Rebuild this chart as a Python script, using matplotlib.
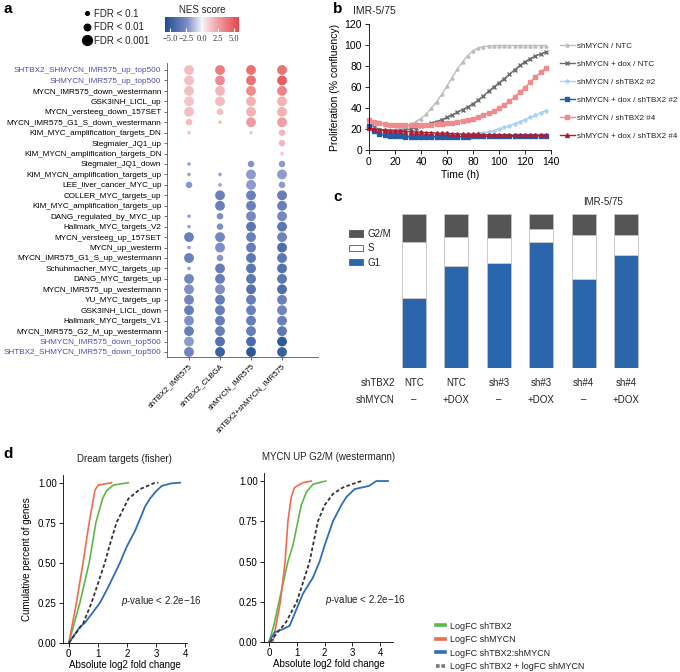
import numpy as np
import matplotlib
matplotlib.use('Agg')
import matplotlib.pyplot as plt
import matplotlib.transforms as mtransforms
from matplotlib.colors import LinearSegmentedColormap, Normalize
from matplotlib.cm import ScalarMappable
from matplotlib.lines import Line2D
from matplotlib.patches import Patch

#! panel a: GSEA dot plot
gene_sets = [
  'SHTBX2_SHMYCN_IMR575_up_top500', 'SHMYCN_IMR575_up_top500', 'MYCN_IMR575_down_westermann',
  'GSK3INH_LICL_up', 'MYCN_versteeg_down_157SET', 'MYCN_IMR575_G1_S_down_westermann',
  'KIM_MYC_amplification_targets_DN', 'Stegmaier_JQ1_up', 'KIM_MYCN_amplification_targets_DN',
  'Stegmaier_JQ1_down', 'KIM_MYCN_amplification_targets_up', 'LEE_liver_cancer_MYC_up',
  'COLLER_MYC_targets_up', 'KIM_MYC_amplification_targets_up', 'DANG_regulated_by_MYC_up',
  'Hallmark_MYC_targets_V2', 'MYCN_versteeg_up_157SET', 'MYCN_up_westerm',
  'MYCN_IMR575_G1_S_up_westermann', 'Schuhmacher_MYC_targets_up', 'DANG_MYC_targets_up',
  'MYCN_IMR575_up_westermann', 'YU_MYC_targets_up', 'GSK3INH_LICL_down', 'Hallmark_MYC_targets_V1',
  'MYCN_IMR575_G2_M_up_westermann', 'SHMYCN_IMR575_down_top500', 'SHTBX2_SHMYCN_IMR575_down_top500',
]
highlighted_sets = ['SHTBX2_SHMYCN_IMR575_up_top500', 'SHMYCN_IMR575_up_top500',
                    'SHMYCN_IMR575_down_top500', 'SHTBX2_SHMYCN_IMR575_down_top500']
comparisons = ['shTBX2_IMR575', 'shTBX2_CLBGA', 'shMYCN_IMR575', 'shTBX2+shMYCN_IMR575']
nan = np.nan
nes = np.array([
  [1.6, 3.8, 4.2, 4.2],
  [1.5, 3.2, 4.2, 4.9],
  [1.5, 1.8, 3.2, 3.5],
  [1.4, 1.6, 1.9, 1.9],
  [1.5, 1.5, 1.9, 1.9],
  [1.6, 1.5, 2.6, 2.5],
  [1.3, nan, 1.3, 1.8],
  [nan, nan, nan, 1.8],
  [nan, nan, nan, 1.3],
  [-1.8, nan, -2.2, -2.0],
  [-1.8, -1.8, -2.0, -2.0],
  [-2.1, -1.8, -2.0, -2.0],
  [nan, -3.0, -3.0, -3.2],
  [nan, -3.0, -3.0, -3.0],
  [-1.8, -2.3, -2.6, -2.6],
  [-1.8, -2.3, -3.5, -3.5],
  [-3.0, -2.7, -3.0, -2.8],
  [-1.8, -2.3, -3.2, -4.0],
  [-3.0, -2.1, -3.5, -3.5],
  [-1.8, -3.2, -3.6, -3.8],
  [-2.7, -3.2, -3.5, -3.5],
  [-2.3, -2.3, -3.8, -4.0],
  [-2.8, -3.2, -3.2, -3.0],
  [-3.2, -3.2, -3.0, -2.8],
  [-2.3, -3.2, -3.2, -3.0],
  [-3.2, -3.2, -3.2, -3.5],
  [-2.0, -3.8, -4.2, -5.2],
  [-2.8, -4.8, -5.2, -4.8],
])
#* 0 = not significant, 1 = FDR<0.1, 2 = FDR<0.01, 3 = FDR<0.001
fdr_class = np.array([
  [3, 3, 3, 3], [3, 3, 3, 3], [3, 3, 3, 3], [3, 3, 3, 3], [3, 2, 3, 3],
  [2, 1, 3, 3], [1, 0, 1, 2], [0, 0, 0, 2], [0, 0, 0, 1], [1, 0, 2, 2],
  [1, 1, 3, 3], [2, 1, 3, 2], [0, 3, 3, 3], [0, 3, 3, 3], [1, 2, 3, 3],
  [1, 2, 3, 3], [3, 3, 3, 3], [1, 3, 3, 3], [3, 2, 3, 3], [1, 3, 3, 3],
  [3, 3, 3, 3], [3, 3, 3, 3], [3, 3, 3, 3], [3, 3, 3, 3], [3, 3, 3, 3],
  [3, 3, 3, 3], [3, 3, 3, 3], [3, 3, 3, 3],
])
fdr_labels = ['FDR < 0.1', 'FDR < 0.01', 'FDR < 0.001']

#! panel b: proliferation curves
time_h = [0, 4, 8, 12, 16, 20, 24, 28, 32, 36, 40, 44, 48, 52, 56, 60, 64, 68, 72, 76, 80, 84,
          88, 92, 96, 100, 104, 108, 112, 116, 120, 124, 128, 132, 136]
conf_ntc = [27, 22, 20, 19, 19, 19.5, 20.5, 22, 24, 27, 30, 34, 40, 46, 53, 61, 69, 77, 84, 90,
            94.5, 97, 98.5, 99, 99.5, 99.5, 99.5, 99.5, 99.5, 99.5, 99.5, 99.5, 99.5, 99.5, 99.5]
conf_dox_ntc = [27, 22, 19, 18, 18, 18, 18.5, 19, 20, 21, 22.5, 24, 25.5, 27, 29, 31, 33.5, 36,
                38.5, 41, 44, 47.5, 51.5, 56, 60, 64, 68, 72, 76.5, 80.5, 84, 87, 89.5, 91.5, 93]
conf_sh2 = [26, 20, 17, 15, 14, 14, 14, 14, 14, 14, 14, 14, 14, 14, 14, 14, 14.5, 14.5, 15, 15,
            15.5, 16, 16.5, 17.5, 18.5, 20, 21.5, 23, 25, 27, 29, 31, 33, 35.5, 37.5]
conf_dox_sh2 = [23, 18, 15, 14, 13, 13, 13, 12.5, 12.5, 12.5, 12.5, 12.5, 12.5, 12.5, 12.5, 12.5,
                12.5, 12.5, 12.5, 12.5, 13, 13, 13, 13, 13, 13, 13, 13, 13, 13, 13.5, 13.5, 13.5,
                13.5, 13.5]
conf_sh4 = [29, 27, 25.5, 24.5, 24, 23.5, 23.5, 23.5, 23.5, 23.5, 23.5, 24, 24, 24.5, 25, 25.5,
            26, 27, 28, 29, 30, 31.5, 33, 35, 37.5, 40, 43, 46.5, 50.5, 55, 59.5, 64.5, 69.5, 74, 78]
conf_dox_sh4 = [21, 20, 19.5, 19, 18.5, 18, 18, 17.5, 17.5, 17, 17, 16.5, 16.5, 16, 16, 16, 15.5,
                15.5, 15, 15, 15, 15, 14.5, 14.5, 14.5, 14.5, 14, 14, 14, 14, 14, 14, 14, 14, 14]
prolif_labels = ['shMYCN / NTC', 'shMYCN + dox / NTC', 'shMYCN / shTBX2 #2',
                 'shMYCN + dox / shTBX2 #2', 'shMYCN / shTBX2 #4', 'shMYCN + dox / shTBX2 #4']

#! panel c: cell cycle
shtbx2_cond = ['NTC', 'NTC', 'sh#3', 'sh#3', 'sh#4', 'sh#4']
shmycn_cond = ['\u2013', '+DOX', '\u2013', '+DOX', '\u2013', '+DOX']
g1_pct = [45.6, 66.0, 68.2, 81.6, 57.8, 73.4]
s_pct = [36.4, 19.0, 16.2, 8.9, 28.8, 12.8]
g2m_pct = [18.0, 15.0, 15.6, 9.5, 13.4, 13.8]

#! panel d: cumulative distributions
dream_red_x = [0, 0.26, 0.49, 0.70, 0.90, 1.01, 1.47]
dream_red_y = [0, 0.25, 0.50, 0.75, 0.954, 0.985, 1.0]
dream_green_x = [0, 0.38, 0.70, 0.84, 0.93, 1.16, 1.30, 1.53, 2.05]
dream_green_y = [0, 0.25, 0.50, 0.65, 0.75, 0.90, 0.95, 0.985, 1.0]
dream_blue_x = [0, 0.38, 0.55, 1.07, 1.36, 1.76, 1.99, 2.28, 2.51, 2.62, 2.79, 3.02, 3.20, 3.50, 3.83]
dream_blue_y = [0, 0.10, 0.125, 0.25, 0.35, 0.50, 0.60, 0.70, 0.80, 0.85, 0.90, 0.95, 0.98, 0.995, 1.0]
dream_sum_x = [0, 0.20, 0.50, 0.78, 1.24, 1.39, 1.64, 2.05, 2.45, 2.97, 3.08]
dream_sum_y = [0, 0.05, 0.125, 0.25, 0.50, 0.60, 0.75, 0.90, 0.96, 1.0, 1.0]

g2m_red_x = [0.14, 0.41, 0.58, 0.68, 0.80, 0.92, 1.22, 1.52]
g2m_red_y = [0, 0.25, 0.50, 0.75, 0.90, 0.96, 0.99, 1.0]
g2m_green_x = [0, 0.17, 0.36, 0.68, 0.86, 1.04, 1.16, 1.34, 1.58, 2.04]
g2m_green_y = [0, 0.10, 0.25, 0.50, 0.60, 0.75, 0.85, 0.93, 0.98, 1.0]
g2m_blue_x = [0, 0.20, 0.50, 0.74, 0.98, 1.22, 1.58, 1.82, 2.00, 2.30, 2.60, 2.78, 3.08, 3.60, 3.86, 4.28]
g2m_blue_y = [0, 0.06, 0.08, 0.10, 0.20, 0.30, 0.40, 0.50, 0.60, 0.75, 0.85, 0.90, 0.95, 0.97, 1.0, 1.0]
g2m_sum_x = [0.05, 0.26, 0.62, 1.00, 1.28, 1.46, 1.58, 1.76, 2.00, 2.30, 2.66, 3.14, 3.33]
g2m_sum_y = [0, 0.05, 0.125, 0.25, 0.40, 0.50, 0.60, 0.75, 0.85, 0.92, 0.96, 0.99, 1.0]
cdf_labels = ['LogFC shTBX2', 'LogFC shMYCN', 'LogFC shTBX2:shMYCN', 'LogFC shTBX2 + logFC shMYCN']


W, H = 680, 672


def px_axes(fig, x0, y0, x1, y1):
  #* axes from pixel box (top-left origin)
  return fig.add_axes([x0 / W, 1 - y1 / H, (x1 - x0) / W, (y1 - y0) / H])


def style_cdf(ax):
  ax.spines[['top', 'right']].set_visible(False)
  ax.set_yticks([0, 0.25, 0.5, 0.75, 1.0])
  ax.set_yticklabels(['0.00', '0.25', '0.50', '0.75', '1.00'])
  ax.set_xticks([0, 1, 2, 3, 4])
  ax.tick_params(labelsize=7, length=3, width=0.6, pad=1.5)
  ax.set_xlabel('Absolute log2 fold change', fontsize=7, labelpad=0.5)
  ax.text(0.47, 0.25, '$p$-value < 2.2e\u221216', fontsize=7, transform=ax.transAxes, va='center')


def main():
  plt.rcParams['font.family'] = ['Liberation Sans', 'DejaVu Sans']
  plt.rcParams['mathtext.fontset'] = 'custom'
  plt.rcParams['mathtext.it'] = 'Liberation Sans:italic'
  plt.rcParams['mathtext.rm'] = 'Liberation Sans'
  plt.rcParams['axes.linewidth'] = 0.6
  plt.rcParams['text.color'] = '#222222'

  fig = plt.figure(figsize=(W / 100, H / 100), dpi=100)

  #! ---------------- panel a ----------------
  cmap = LinearSegmentedColormap.from_list(
    'nes', [(0, '#1d4e93'), (0.3, '#7d8dc5'), (0.5, '#f6f6f8'), (0.7, '#f3a3a6'), (1, '#e4464d')])
  norm = Normalize(-5.8, 5.8)
  size_map = {1: 7, 2: 22, 3: 50}

  ax_a = px_axes(fig, 167, 63, 318, 357)
  rows, cols = np.nonzero(fdr_class)
  ax_a.scatter(cols, rows, s=[size_map[c] for c in fdr_class[rows, cols]],
               c=nes[rows, cols], cmap=cmap, norm=norm, linewidths=0)
  ax_a.set_xlim(-0.71, 4.16)
  ax_a.set_ylim(len(gene_sets) - 0.52, -0.67)
  ax_a.spines[['top', 'right']].set_visible(False)
  for s in ['left', 'bottom']:
    ax_a.spines[s].set_color('#555555')
  ax_a.set_yticks(range(len(gene_sets)))
  ax_a.set_yticklabels(gene_sets, fontsize=5.9)
  for lab in ax_a.get_yticklabels():
    if lab.get_text() in highlighted_sets:
      lab.set_color('#4f4fa6')
  ax_a.set_xticks(range(len(comparisons)))
  ax_a.set_xticklabels(comparisons, fontsize=5.6, rotation=45, ha='right', rotation_mode='anchor')
  ax_a.tick_params(length=2, width=0.6, pad=2, color='#555555')

  #* FDR size legend
  fdr_handles = [Line2D([], [], ls='', marker='o', color='black', markersize=np.sqrt(size_map[k]))
                 for k in (1, 2, 3)]
  ax_a.legend(fdr_handles, fdr_labels, loc='upper left', bbox_to_anchor=(78 / W, 1 - 4 / H),
              bbox_transform=fig.transFigure, frameon=False, fontsize=7, handlelength=0.8,
              handletextpad=0.3, labelspacing=0.35, borderpad=0)

  #* NES colour bar
  cax = px_axes(fig, 165, 17, 239, 32)
  cb = fig.colorbar(ScalarMappable(norm=norm, cmap=cmap), cax=cax, orientation='horizontal',
                    ticks=[-5, -2.5, 0, 2.5, 5])
  cb.outline.set_visible(False)
  cax.tick_params(axis='x', direction='in', length=3, width=0.8, color='white', labelsize=6,
                  labelcolor='#333333', pad=2)
  for lab in cax.get_xticklabels():
    lab.set_family('Liberation Serif')
  cax.set_title('NES score', fontsize=7, pad=3)

  #! ---------------- panel b ----------------
  ax_b = px_axes(fig, 369, 24, 551, 150)
  series_b = [conf_ntc, conf_dox_ntc, conf_sh2, conf_dox_sh2, conf_sh4, conf_dox_sh4]
  colors_b = ['#bdbdbd', '#6b6b6b', '#a9d3ee', '#1f5ea6', '#f08a8c', '#b11c35']
  markers_b = ['^', 'x', '*', 's', 's', '^']
  msizes_b = [2.2, 2.5, 3, 2.4, 3.2, 2.8]
  for vals, col, mk, ms, lab in zip(series_b, colors_b, markers_b, msizes_b, prolif_labels):
    ax_b.plot(time_h, vals, color=col, marker=mk, markersize=ms, lw=1.0, label=lab, clip_on=False)
  ax_b.set_xlim(0, 140)
  ax_b.set_ylim(0, 120)
  ax_b.set_xticks(range(0, 141, 20))
  ax_b.set_yticks(range(0, 121, 20))
  ax_b.spines[['top', 'right']].set_visible(False)
  ax_b.tick_params(labelsize=7.5, length=3, width=0.6, pad=2)
  ax_b.set_xlabel('Time (h)', fontsize=7.5, labelpad=2)
  ax_b.set_ylabel('Proliferation (% confluency)', fontsize=7.5, labelpad=3)
  ax_b.text(-0.09, 1.1, 'IMR-5/75', fontsize=7.5, transform=ax_b.transAxes, va='center')
  ax_b.legend(loc='upper left', bbox_to_anchor=(556 / W, 1 - 38 / H), bbox_transform=fig.transFigure,
              frameon=False, fontsize=5.8, handlelength=1.8, handletextpad=0.35, labelspacing=1.3,
              borderpad=0)

  #! ---------------- panel c ----------------
  ax_c = px_axes(fig, 392.8, 214, 647.2, 368)
  xpos = np.arange(len(g1_pct))
  bar_kw = dict(width=0.57, edgecolor='#c4c4c4', linewidth=0.6)
  ax_c.bar(xpos, g1_pct, color='#2b66ad', **bar_kw)
  ax_c.bar(xpos, s_pct, bottom=g1_pct, color='white', **bar_kw)
  ax_c.bar(xpos, g2m_pct, bottom=np.add(g1_pct, s_pct), color='#555555', **bar_kw)
  ax_c.set_xlim(-0.5, 5.5)
  ax_c.set_ylim(0, 100)
  ax_c.axis('off')
  trans = mtransforms.blended_transform_factory(ax_c.transData, ax_c.transAxes)
  for i in xpos:
    ax_c.text(i, -0.1, shtbx2_cond[i], transform=trans, ha='center', va='center', fontsize=7)
    ax_c.text(i, -0.205, shmycn_cond[i], transform=trans, ha='center', va='center', fontsize=7)
  ax_c.text(-0.45, -0.1, 'shTBX2', transform=trans, ha='right', va='center', fontsize=7)
  ax_c.text(-0.45, -0.205, 'shMYCN', transform=trans, ha='right', va='center', fontsize=7)
  ax_c.text(4.45, 1.08, 'IMR-5/75', transform=trans, ha='center', va='center', fontsize=7)
  cc_handles = [Patch(facecolor='#555555', edgecolor='#555555', lw=0.6),
                Patch(facecolor='white', edgecolor='#555555', lw=0.6),
                Patch(facecolor='#2b66ad', edgecolor='#2b66ad', lw=0.6)]
  ax_c.legend(cc_handles, ['G2/M', 'S', 'G1'], loc='upper left', bbox_to_anchor=(344 / W, 1 - 224 / H),
              bbox_transform=fig.transFigure, frameon=False, fontsize=7, handlelength=1.5,
              handleheight=0.6, handletextpad=0.4, labelspacing=0.45, borderpad=0)

  #! ---------------- panel d ----------------
  c_green, c_red, c_blue, c_sum = '#5cb846', '#ee6c4d', '#2f6db5', '#333333'
  ax_d1 = px_axes(fig, 63, 475, 186.5, 643)
  ax_d1.plot(dream_green_x, dream_green_y, color=c_green, lw=1.2)
  ax_d1.plot(dream_red_x, dream_red_y, color=c_red, lw=1.2)
  ax_d1.plot(dream_blue_x, dream_blue_y, color=c_blue, lw=1.3)
  ax_d1.plot(dream_sum_x, dream_sum_y, color=c_sum, lw=1.3, ls=(0, (2, 1.3)))
  ax_d1.set_xlim(-0.2, 4.05)
  ax_d1.set_ylim(0, 1.048)
  style_cdf(ax_d1)
  ax_d1.set_title('Dream targets (fisher)', fontsize=7, pad=9)
  ax_d1.set_ylabel('Cumulative percent of genes', fontsize=7, labelpad=4)

  ax_d2 = px_axes(fig, 264, 473, 393, 642)
  ax_d2.plot(g2m_green_x, g2m_green_y, color=c_green, lw=1.2)
  ax_d2.plot(g2m_red_x, g2m_red_y, color=c_red, lw=1.2)
  ax_d2.plot(g2m_blue_x, g2m_blue_y, color=c_blue, lw=1.3)
  ax_d2.plot(g2m_sum_x, g2m_sum_y, color=c_sum, lw=1.3, ls=(0, (2, 1.3)))
  ax_d2.set_xlim(-0.18, 4.46)
  ax_d2.set_ylim(0, 1.05)
  style_cdf(ax_d2)
  ax_d2.set_title('MYCN UP G2/M (westermann)', fontsize=7, pad=9)

  cdf_handles = [Line2D([], [], color=c_green, lw=2.6), Line2D([], [], color=c_red, lw=2.6),
                 Line2D([], [], color=c_blue, lw=2.6),
                 Line2D([], [], color='#777777', lw=2.6, ls=(0, (1, 0.5)))]
  ax_d2.legend(cdf_handles, cdf_labels, loc='upper left', bbox_to_anchor=(431 / W, 1 - 617 / H),
               bbox_transform=fig.transFigure, frameon=False, fontsize=6.5, handlelength=1.1,
               handletextpad=0.5, labelspacing=0.5, borderpad=0)

  #! panel letters
  for letter, x, y in [('a', 3, 13), ('b', 333, 13), ('c', 333, 201), ('d', 3, 458)]:
    fig.text(x / W, 1 - y / H, letter, fontsize=11, fontweight='bold', va='baseline', color='black')

  fig.savefig('out.png', dpi=100)


if __name__ == '__main__':
  main()
